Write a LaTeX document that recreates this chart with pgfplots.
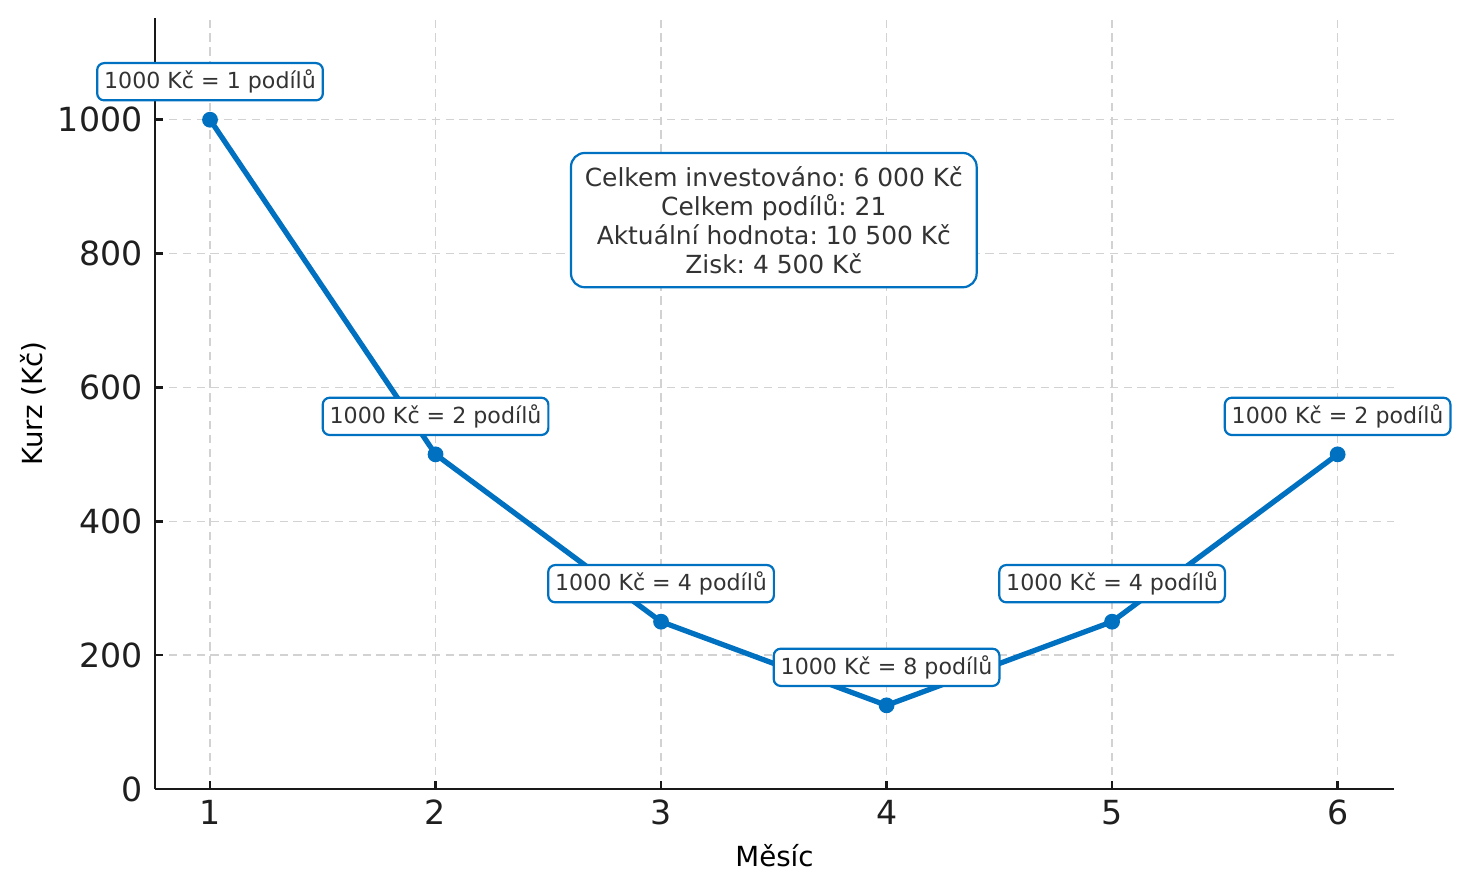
\documentclass[border=0pt]{standalone}
\usepackage{fontspec}
\setmainfont{DejaVu Sans}
\usepackage{pgfplots}
\pgfplotsset{compat=1.18}
\definecolor{linie}{HTML}{0070C0}
\definecolor{txt}{HTML}{333333}
\frenchspacing
\begin{document}
\begin{tikzpicture}
\useasboundingbox (-0.775in,-0.51in) rectangle (6.545in,3.945in);
\begin{axis}[
  scale only axis,
  width=6.195in, height=3.855in,
  xmin=0.756, xmax=6.25,
  ymin=0, ymax=1152,
  axis lines*=left,
  axis line style={line width=0.9pt, color=black!90},
  xtick={1,2,3,4,5,6},
  ytick={0,200,400,600,800,1000},
  tick style={line width=0.9pt, color=black!90},
  tick align=inside,
  major tick length=0.04in,
  ticklabel style={font=\fontsize{12}{14}\selectfont, text=black!88},
  yticklabel style={xshift=-1pt},
  xticklabel style={yshift=-0.5pt},
  /pgf/number format/assume math mode=true,
  /pgf/number format/1000 sep={},
  grid=major,
  major grid style={dash pattern=on 3pt off 2pt, color=gray!35, line width=0.5pt},
  xlabel={Měsíc}, ylabel={Kurz (Kč)},
  label style={font=\fontsize{10}{12}\selectfont, text=black!88},
  every axis y label/.style={at={(axis description cs:-0.0985,0.5)}, rotate=90, anchor=center},
  every axis x label/.style={at={(axis description cs:0.5,-0.087)}, anchor=center},
  clip=false,
]
\addplot[color=linie, line width=1.9pt, mark=*, mark size=2.6pt, mark options={fill=linie, draw=linie, line width=0.5pt}]
  coordinates {(1,1000) (2,500) (3,250) (4,125) (5,250) (6,500)};
\tikzset{ann/.style={draw=linie, line width=0.8pt, fill=white, rounded corners=2.5pt,
  font=\fontsize{8}{9.6}\selectfont, text=txt, inner xsep=2.5pt, inner ysep=2.5pt, yshift=0.19in}}
\node[ann] at (axis cs:1,1000) {1000 Kč = 1 podílů};
\node[ann] at (axis cs:2,500) {1000 Kč = 2 podílů};
\node[ann] at (axis cs:3,250) {1000 Kč = 4 podílů};
\node[ann] at (axis cs:4,125) {1000 Kč = 8 podílů};
\node[ann] at (axis cs:5,250) {1000 Kč = 4 podílů};
\node[ann] at (axis cs:6,500) {1000 Kč = 2 podílů};
\node[draw=linie, line width=0.8pt, fill=white, rounded corners=5pt, align=center,
  font=\fontsize{9}{10.4}\selectfont, text=txt, inner xsep=5pt, inner ysep=5pt]
  at (axis cs:3.5,850) {Celkem investováno: 6 000 Kč\\Celkem podílů: 21\\Aktuální hodnota: 10 500 Kč\\Zisk: 4 500 Kč};
\end{axis}
\end{tikzpicture}
\end{document}
